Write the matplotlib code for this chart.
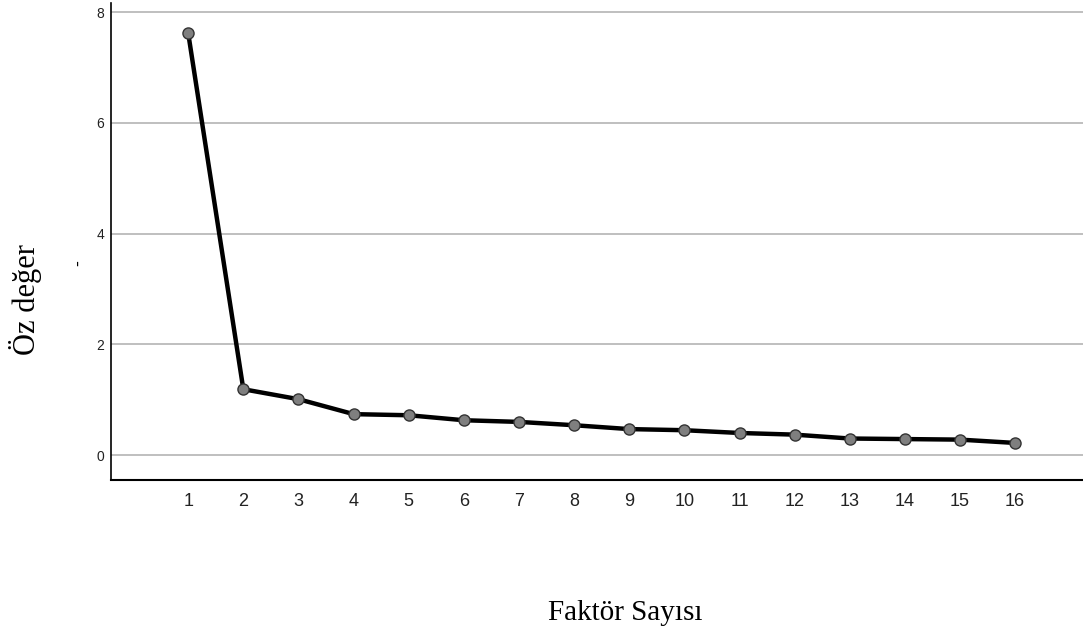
import matplotlib.pyplot as plt

factors = list(range(1, 17))
eigenvalues = [7.62, 1.19, 1.01, 0.74, 0.72, 0.63, 0.60, 0.54,
               0.47, 0.45, 0.40, 0.37, 0.30, 0.29, 0.28, 0.22]
y_ticks = [0, 2, 4, 6, 8]

fig = plt.figure(figsize=(10.83, 6.3), dpi=100)
ax = fig.add_axes([0.1025, 0.238, 0.8975, 0.757])

ax.plot(factors, eigenvalues, color='black', linewidth=3.2, zorder=3,
        marker='o', markersize=8, markerfacecolor='#7f7f7f',
        markeredgecolor='#333333', markeredgewidth=1.0)

ax.set_xlim(-0.4, 17.23)
ax.set_ylim(-0.45, 8.16)
ax.set_xticks(factors)
ax.set_yticks(y_ticks)
ax.tick_params(axis='both', length=0)
ax.tick_params(axis='x', labelsize=13, pad=9, labelcolor='#222222')
ax.tick_params(axis='y', labelsize=10, pad=5, labelcolor='#222222')
for lbl in ax.get_xticklabels() + ax.get_yticklabels():
    lbl.set_family('Liberation Sans')

ax.yaxis.grid(True, color='#b4b4b4', linewidth=1.2)
ax.set_axisbelow(True)
for side in ['top', 'right']:
    ax.spines[side].set_visible(False)
ax.spines['left'].set_linewidth(1.2)
ax.spines['bottom'].set_linewidth(1.5)

fig.text(0.577, 0.027, 'Faktör Sayısı', family='Liberation Serif',
         fontsize=21, ha='center', va='center')
fig.text(0.024, 0.525, 'Öz değer', family='Liberation Serif',
         fontsize=22, rotation=90, ha='center', va='center')
fig.text(0.073, 0.583, '-', family='Liberation Sans', fontsize=13,
         rotation=90, ha='center', va='center')

plt.savefig('out.png', dpi=100)
